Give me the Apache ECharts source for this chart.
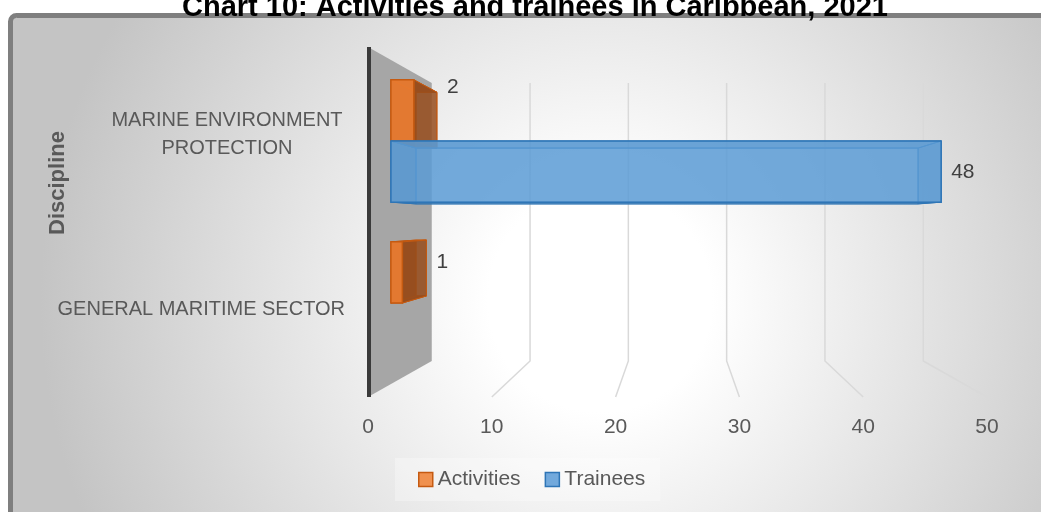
<!DOCTYPE html>
<html>
<head>
<meta charset="utf-8">
<script src="https://cdn.jsdelivr.net/npm/echarts@6/dist/echarts.min.js"></script>
<style>
  html, body { margin: 0; padding: 0; background: #fff; }
  #chart { width: 1041px; height: 512px; }
</style>
</head>
<body>
<div id="chart"></div>
<script>
// data
var categories = ['GENERAL MARITIME SECTOR', 'MARINE ENVIRONMENT\nPROTECTION'];
var activities = [1, 2];
var trainees = [null, 48];
var valueTicks = [0, 10, 20, 30, 40, 50];

var FONT = '"Liberation Sans", Arial, sans-serif';
// fake 3d camera: depth factors towards the grid centre
var K_FRONT = 0.074, K_BACK = 0.155, K_WALL = 0.206;

function project(x, y, k, cs) {
  var cx = cs.x + cs.width / 2, cy = cs.y + cs.height / 2;
  return [x + k * (cx - x), y + k * (cy - y)];
}

function renderFrame(params, api) {
  var cs = params.coordSys;
  var v = api.value(0);
  var x = api.coord([v, 0])[0];
  var top = cs.y, bot = cs.y + cs.height;
  var bt = project(x, top, K_WALL, cs), bb = project(x, bot, K_WALL, cs);
  if (v === 0) {
    return {
      type: 'group',
      children: [
        { type: 'polygon', shape: { points: [[x, top], bt, bb, [x, bot]] }, style: { fill: '#a6a6a6' } },
        { type: 'line', shape: { x1: x + 1, y1: top, x2: x + 1, y2: bot }, style: { stroke: '#3a3a3a', lineWidth: 4 } }
      ]
    };
  }
  return {
    type: 'polyline',
    shape: { points: [bt, bb, [x, bot]] },
    style: { stroke: '#d9d9d9', lineWidth: 1.5, fill: 'none' }
  };
}

function boxRenderer(st) {
  return function (params, api) {
    var v = api.value(0);
    if (v == null || isNaN(v)) return;
    var cs = params.coordSys;
    var cat = api.value(1);
    var end = api.coord([v, cat]);
    var x0 = api.coord([0, cat])[0];
    var x1 = end[0], yc = end[1];
    var h = api.size([0, 1])[1] * 0.755 / 2;
    var yTop = st.upper ? yc - h : yc;
    var yBot = yTop + h;
    var corners = [[x0, yTop], [x1, yTop], [x1, yBot], [x0, yBot]];
    var F = corners.map(function (p) { return project(p[0], p[1], K_FRONT, cs); });
    var B = corners.map(function (p) { return project(p[0], p[1], K_BACK, cs); });
    function face(pts, fill, lw) {
      return { type: 'polygon', shape: { points: pts }, style: { fill: fill, stroke: st.edge, lineWidth: lw } };
    }
    var right = Math.max(F[1][0], B[1][0]);
    return {
      type: 'group',
      children: [
        face(B, 'none', 1),
        face([F[0], F[1], B[1], B[0]], st.side, 1),
        face([F[3], F[2], B[2], B[3]], st.side, 1),
        face([F[0], F[3], B[3], B[0]], st.side, 1),
        face([F[1], F[2], B[2], B[1]], st.side, 1),
        face(F, st.front, 1.5),
        {
          type: 'text',
          style: {
            text: String(v), x: right + 10, y: (yTop + yBot) / 2 + st.labelDy,
            verticalAlign: 'middle', align: 'left',
            font: '21px ' + FONT, fill: '#404040'
          }
        }
      ]
    };
  };
}

var chart = echarts.init(document.getElementById('chart'));
chart.setOption({
  animation: false,
  title: {
    text: 'Chart 10: Activities and trainees in Caribbean, 2021',
    left: 177,
    top: -12,
    textStyle: { fontFamily: FONT, fontSize: 29, fontWeight: 'bold', color: '#000' }
  },
  graphic: [
    {
      type: 'rect', z: -10,
      shape: { x: 10.5, y: 15.5, width: 1100, height: 600, r: 6 },
      style: {
        fill: {
          type: 'radial', x: 600, y: 300, r: 560, global: true,
          colorStops: [
            { offset: 0, color: '#ffffff' },
            { offset: 0.2, color: '#ffffff' },
            { offset: 1, color: '#c4c4c4' }
          ]
        },
        stroke: '#7f7f7f', lineWidth: 5
      }
    },
    {
      type: 'text', x: 58, y: 183, rotation: Math.PI / 2,
      style: {
        text: 'Discipline', align: 'center', verticalAlign: 'middle',
        font: 'bold 22px ' + FONT, fill: '#595959'
      }
    }
  ],
  legend: {
    left: 395, top: 458,
    padding: [11, 15, 11, 23],
    backgroundColor: 'rgba(255,255,255,0.3)',
    itemWidth: 14, itemHeight: 14, itemGap: 24,
    icon: 'rect',
    textStyle: { fontFamily: FONT, fontSize: 21, color: '#595959' },
    data: [
      { name: 'Activities', itemStyle: { color: '#f0914f', borderColor: '#c55a11', borderWidth: 1.5 } },
      { name: 'Trainees', itemStyle: { color: '#72a9dc', borderColor: '#2e75b6', borderWidth: 1.5 } }
    ]
  },
  grid: { left: 368, right: 54, top: 47, bottom: 115 },
  xAxis: {
    type: 'value', min: 0, max: 50, interval: 10,
    axisLine: { show: false }, axisTick: { show: false }, splitLine: { show: false },
    axisLabel: { fontFamily: FONT, fontSize: 21, color: '#595959', margin: 20 }
  },
  yAxis: {
    type: 'category', data: categories,
    axisLine: { show: false }, axisTick: { show: false },
    axisLabel: {
      margin: 23,
      formatter: function (v) {
        var lines = v.split('\n');
        var key = lines.length > 1 ? 'm' : 's';
        return lines.map(function (s) { return '{' + key + '|' + s + '}'; }).join('\n');
      },
      rich: {
        m: { width: 236, align: 'center', fontFamily: FONT, fontSize: 20, lineHeight: 28, color: '#595959' },
        s: { fontFamily: FONT, fontSize: 20, lineHeight: 28, color: '#595959' }
      }
    }
  },
  series: [
    {
      name: 'frame', type: 'custom', z: 1, silent: true,
      data: valueTicks.map(function (v) { return [v, 0]; }),
      encode: { x: 0, y: 1 },
      renderItem: renderFrame
    },
    {
      name: 'Activities', type: 'custom', z: 2,
      itemStyle: { color: '#ed7d31' },
      data: activities.map(function (v, i) { return [v, i]; }),
      encode: { x: 0, y: 1 },
      renderItem: boxRenderer({
        upper: true, edge: '#c55a11', labelDy: -14,
        front: 'rgba(237,125,49,0.88)', side: 'rgba(150,76,28,0.85)'
      })
    },
    {
      name: 'Trainees', type: 'custom', z: 3,
      itemStyle: { color: '#5b9bd5' },
      data: trainees.map(function (v, i) { return [v, i]; }),
      encode: { x: 0, y: 1 },
      renderItem: boxRenderer({
        upper: false, edge: '#2e75b6', labelDy: 4.5,
        front: 'rgba(91,155,213,0.85)', side: 'rgba(65,113,156,0.3)'
      })
    }
  ]
});
</script>
</body>
</html>
